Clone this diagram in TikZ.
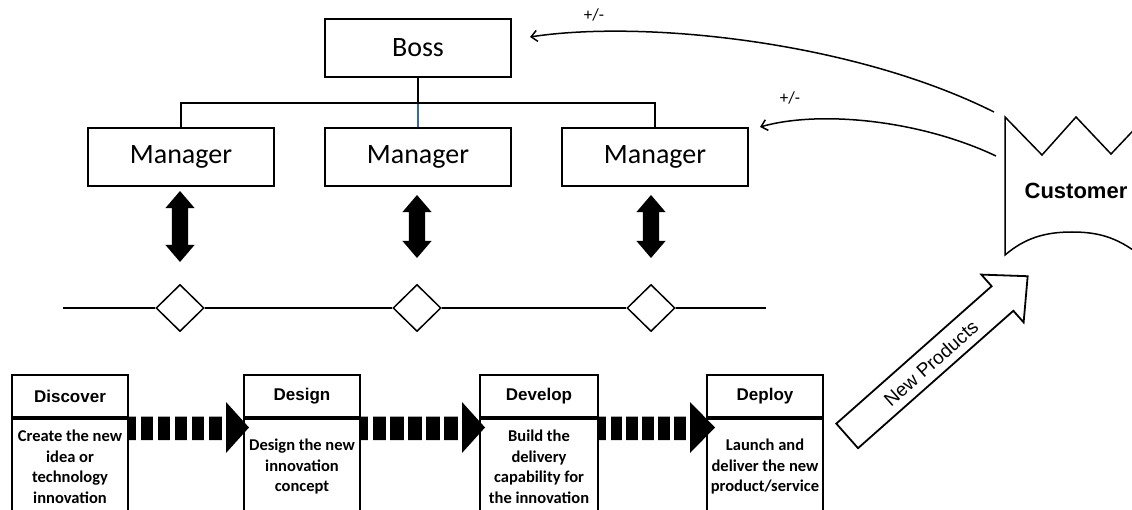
\documentclass[tikz,border=0pt]{standalone}
\usepackage{fontspec}
\setmainfont{Carlito}
\newfontfamily\arialfont{Liberation Sans}
\usetikzlibrary{shapes.geometric,shapes.arrows,arrows.meta}
\definecolor{linkblue}{RGB}{52,110,160}
\newcommand\StripeArrow[3]{%
  \fill[black] (#1,416.5) -- (#2,416.5) -- (#2,402) -- (#3,427.5) -- (#2,453) -- (#2,440) -- (#1,440) -- cycle;
  \foreach \k in {0,...,5}{\fill[white] ({#1+8+\k*(#2-#1-12.5)/5},415) rectangle ++(4.5,27);}%
}
\begin{document}
\begin{tikzpicture}[x=1pt,y=-1pt,
  orgbox/.style={draw, line width=2pt, minimum width=186pt, minimum height=58pt, inner sep=0pt, font=\fontsize{28}{32}\selectfont},
  orgline/.style={line width=2pt},
  hdrbox/.style={draw, line width=2pt, minimum width=116pt, minimum height=42pt, inner sep=0pt, font=\arialfont\bfseries\fontsize{17}{20}\selectfont},
  bodybox/.style={draw, line width=2pt, minimum width=116pt, minimum height=96pt, inner sep=0pt, align=center, font=\bfseries\fontsize{16.5}{20.5}\selectfont},
  feedback/.style={line width=1.5pt, -{Straight Barb[length=6pt,width=11pt]}},
  sign/.style={font=\fontsize{17}{20}\selectfont},
  bidir/.style={double arrow, fill=black, rotate=90, double arrow head extend=6.5pt, double arrow tip angle=81, inner xsep=0pt, inner ysep=8pt},
  gate/.style={diamond, draw, fill=white, line width=1.5pt, minimum width=48pt, minimum height=47pt, inner sep=0pt, aspect=1}
]
\useasboundingbox (0,0) rectangle (1132,510);

% org chart
\node[orgbox] (boss) at (418,48) {Boss};
\node[orgbox] (m1) at (181,157) {Manager};
\node[orgbox] (m2) at (418,157) {Manager};
\node[orgbox] (m3) at (655,157) {Manager};
\coordinate (bus) at (418,103);
\draw[orgline, linkblue, line width=1.5pt] (bus) -- (m2.north);
\draw[orgline] (boss.south) -- (bus);
\draw[orgline] (m1.north) -- (m1.north |- bus) -- (m3.north |- bus) -- (m3.north);

% double arrows
\node[bidir, minimum height=71pt] (a1) at (180,226.5) {};
\node[bidir, minimum height=63pt] (a2) at (417,226.5) {};
\node[bidir, minimum height=63pt] (a3) at (651,226.5) {};

% gate line
\node[gate] (d1) at (180,308) {};
\node[gate] (d2) at (417,308) {};
\node[gate] (d3) at (651,308) {};
\coordinate (lnL) at (63,308);
\coordinate (lnR) at (766,308);
\draw[line width=1.5pt] (lnL) -- (d1.west) (d1.east) -- (d2.west) (d2.east) -- (d3.west) (d3.east) -- (lnR);

% stage boxes
\node[hdrbox] (h1) at (70,396) {Discover};
\node[bodybox, anchor=north] (b1) at (h1.south) {Create the new\\idea or\\technology\\innovation};
\node[hdrbox] (h2) at (302,396) {Design};
\node[bodybox, anchor=north] (b2) at (h2.south) {Design the new\\innovation\\concept};
\node[hdrbox, minimum width=118pt] (h3) at (539,396) {Develop};
\node[bodybox, minimum width=118pt, anchor=north] (b3) at (h3.south) {Build the\\delivery\\capability for\\the innovation};
\node[hdrbox] (h4) at (765,396) {Deploy};
\node[bodybox, anchor=north] (b4) at (h4.south) {Launch and\\deliver the new\\product/service};

\StripeArrow{128}{226}{249}
\StripeArrow{360}{462}{485}
\StripeArrow{598}{690}{715}

% new products arrow
\node[single arrow, draw, fill=white, line width=1.8pt, minimum height=241pt, single arrow head extend=15.5pt, single arrow tip angle=87, inner xsep=0pt, inner ysep=15.5pt, rotate=41.5, anchor=tail] (np) at (846.5,436.5) {};
\node[rotate=41.5, font=\arialfont\fontsize{19}{22}\selectfont] (nptext) at (931,363) {New Products};

% customer
\draw[line width=1.5pt, fill=white] (1005,117) -- (1042,155) -- (1076,117) -- (1111,154) -- (1146,117) -- (1146,260)
  .. controls (1120,238) and (1100,232) .. (1072,232)
  .. controls (1045,232) and (1025,238) .. (1005,255) -- cycle;
\node[font=\arialfont\bfseries\fontsize{22}{26}\selectfont] (cust) at (1076,191) {Customer};

% feedback curves
\coordinate (cu1) at (994,112);
\coordinate (cu2) at (996,156);
\coordinate (bossin) at (530,37);
\coordinate (mgrin) at (760,127);
\draw[feedback] (cu1) .. controls (850,40) and (640,20) .. (bossin);
\draw[feedback] (cu2) .. controls (920,120) and (820,110) .. (mgrin);
\node[sign] (s1) at (594,15) {+/-};
\node[sign] (s2) at (790,98) {+/-};
\end{tikzpicture}
\end{document}
